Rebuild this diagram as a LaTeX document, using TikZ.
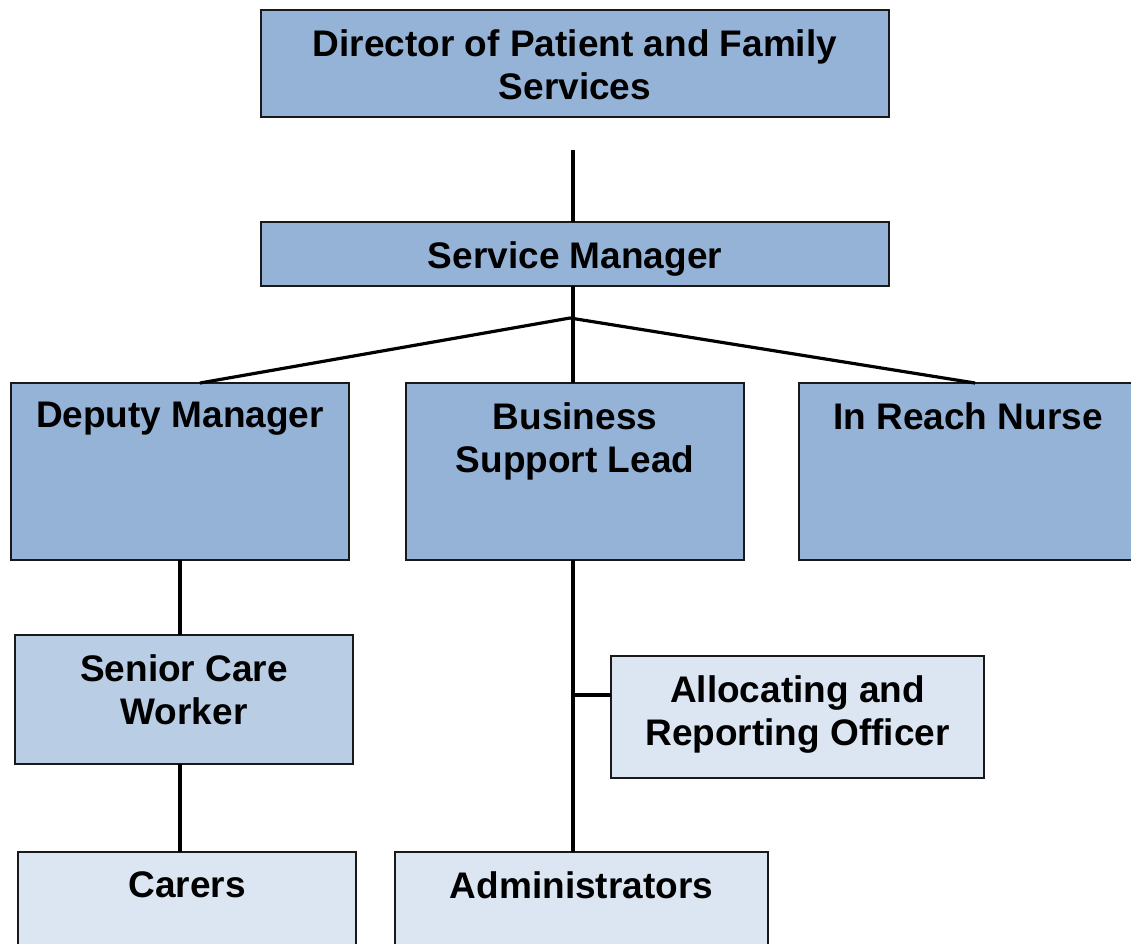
\documentclass[tikz,border=0pt]{standalone}
\usepackage{fontspec}
\setmainfont{Liberation Sans}
\usepackage{xcolor}
\usepackage{tikz}
\usetikzlibrary{positioning,calc}

\definecolor{headblue}{HTML}{95B3D7}
\definecolor{midblue}{HTML}{B9CDE5}
\definecolor{paleblue}{HTML}{DCE6F2}

\begin{document}
\begin{tikzpicture}[
    x=1pt, y=-1pt,
    unit/.style={rectangle, draw=black!90, line width=1.6pt, inner sep=0pt,
                 outer sep=0pt, minimum width=338pt},
    title/.style={font=\bfseries\fontsize{37}{43}\selectfont, align=center,
                  inner sep=0pt, anchor=north, yshift=-19pt},
    link/.style={line width=3.2pt, black}
]
\fill[white] (0,0) rectangle (1131,943);
\clip (0,0) rectangle (1131,943);

% top of the chart
\node[unit, fill=headblue, minimum width=628pt, minimum height=107pt, anchor=north west,
      label={[title]north:Director of Patient and Family\\Services}] (dir) at (261,10) {};
\node[unit, fill=headblue, minimum width=628pt, minimum height=64pt, below=105pt of dir,
      label={[title]north:Service Manager}] (sm) {};

% second row
\node[unit, fill=headblue, minimum height=177pt, below=97pt of sm,
      label={[title]north:Business\\Support Lead}] (busi) {};
\node[unit, fill=headblue, minimum height=177pt, left=57pt of busi,
      label={[title]north:Deputy Manager}] (dep) {};
\node[unit, fill=headblue, minimum height=177pt, right=55pt of busi,
      label={[title]north:In Reach Nurse}] (inr) {};

% lower staff
\node[unit, fill=midblue, minimum height=129pt, anchor=north west,
      label={[title]north:Senior Care\\Worker}] (sen) at (15,635) {};
\node[unit, fill=paleblue, minimum height=177pt, anchor=north west,
      label={[title]north:Carers}] (carers) at (18,852) {};
\node[unit, fill=paleblue, minimum width=373pt, minimum height=122pt, anchor=north west,
      label={[title]north:Allocating and\\Reporting Officer}] (alloc) at (611,656) {};
\node[unit, fill=paleblue, minimum width=373pt, minimum height=177pt, anchor=north west,
      label={[title]north:Administrators}] (admin) at (395,852) {};

% connectors
\coordinate (top) at (573,150);
\coordinate (fork) at (573,318);
\coordinate (spread) at (570,318);
\draw[link] (top) -- (top |- sm.north);
\draw[link] (sm.south -| fork) -- (fork);
\draw[link] (fork) -- (busi.north -| fork);
\draw[link] (spread) -- ([xshift=20pt]dep.north);
\draw[link] (spread) -- ([xshift=7pt]inr.north);
\draw[link] (dep.south) -- (dep.south |- sen.north);
\draw[link] (dep.south |- sen.south) -- (dep.south |- carers.north);
\draw[link] (busi.south -| fork) -- (fork |- admin.north);
\draw[link] ([yshift=22pt]alloc.west -| fork) -- ([yshift=22pt]alloc.west);
\end{tikzpicture}
\end{document}
